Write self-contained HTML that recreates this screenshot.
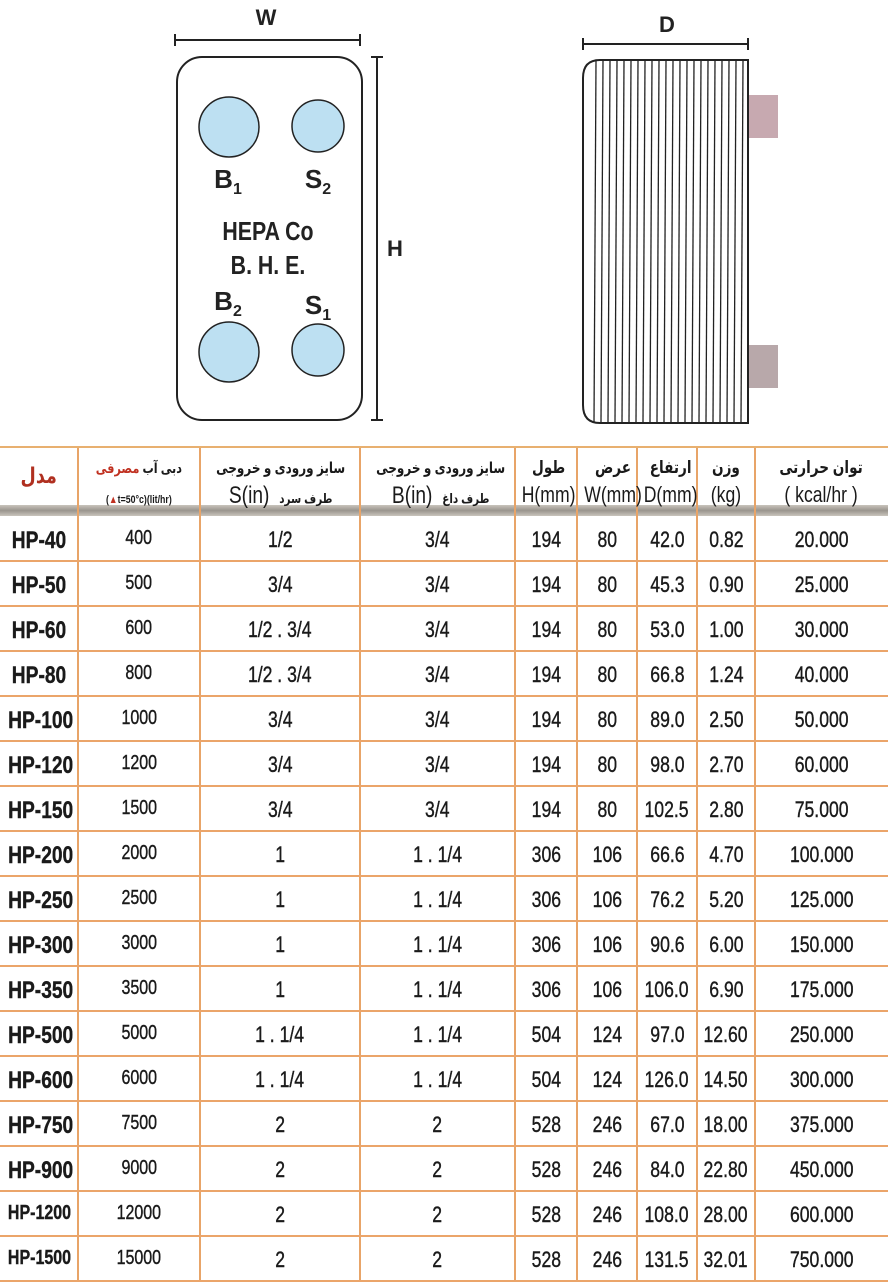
<!DOCTYPE html><html><head><meta charset="utf-8"><style>
body{margin:0;width:888px;height:1280px;background:#fff;overflow:hidden;font-family:"Liberation Sans","DejaVu Sans",sans-serif;position:relative}
svg{position:absolute;left:0;top:0}
.c{position:absolute;text-align:center;color:#1a1a1a;white-space:nowrap;-webkit-text-stroke:0.4px #1a1a1a}
.c>span.s{display:inline-block;transform:scaleX(.8);transform-origin:center}
</style></head><body>
<svg width="888" height="448">
<g stroke="#222" stroke-width="2" fill="none">
<line x1="175" y1="40" x2="360" y2="40"/><line x1="175" y1="34" x2="175" y2="46"/><line x1="360" y1="34" x2="360" y2="46"/>
<line x1="377" y1="57" x2="377" y2="420"/><line x1="371" y1="57" x2="383" y2="57"/><line x1="371" y1="420" x2="383" y2="420"/>
<rect x="177" y="57" width="185" height="363" rx="25"/>
<line x1="583" y1="44" x2="748" y2="44"/><line x1="583" y1="38" x2="583" y2="50"/><line x1="748" y1="38" x2="748" y2="50"/>
</g>
<g fill="#bde0f2" stroke="#222" stroke-width="1.5">
<circle cx="229" cy="127" r="30"/><circle cx="318" cy="126" r="26"/><circle cx="229" cy="352" r="30"/><circle cx="318" cy="350" r="26"/></g>
<g font-family="Liberation Sans,sans-serif" font-weight="bold" fill="#222" font-size="26" text-anchor="middle">
<text x="266" y="25" font-size="22">W</text><text x="395" y="256" font-size="22">H</text><text x="667" y="32" font-size="22">D</text>
<g transform="translate(268 0) scale(.82 1) translate(-268 0)">
<text x="268" y="240">HEPA Co</text><text x="268" y="274">B. H. E.</text></g>
<text x="228" y="188">B<tspan font-size="16" dy="6">1</tspan></text>
<text x="318" y="188">S<tspan font-size="16" dy="6">2</tspan></text>
<text x="228" y="310">B<tspan font-size="16" dy="6">2</tspan></text>
<text x="318" y="314">S<tspan font-size="16" dy="6">1</tspan></text>
</g>
<rect x="748" y="95" width="30" height="43" fill="#c7a9b0"/><rect x="748" y="345" width="30" height="43" fill="#b8a8aa"/>
<path d="M600 60 H748 V423 H600 Q583 423 583 405 V78 Q583 60 600 60Z" fill="#fff" stroke="#222" stroke-width="2"/>
<g stroke="#222" stroke-width="1.3">
<line x1="596" y1="61" x2="594" y2="422"/><line x1="603" y1="61" x2="601" y2="422"/><line x1="610" y1="61" x2="608" y2="422"/><line x1="617" y1="61" x2="615" y2="422"/><line x1="624" y1="61" x2="622" y2="422"/><line x1="631" y1="61" x2="629" y2="422"/><line x1="638" y1="61" x2="636" y2="422"/><line x1="645" y1="61" x2="643" y2="422"/><line x1="652" y1="61" x2="650" y2="422"/><line x1="659" y1="61" x2="657" y2="422"/><line x1="666" y1="61" x2="664" y2="422"/><line x1="673" y1="61" x2="671" y2="422"/><line x1="680" y1="61" x2="678" y2="422"/><line x1="687" y1="61" x2="685" y2="422"/><line x1="694" y1="61" x2="692" y2="422"/><line x1="701" y1="61" x2="699" y2="422"/><line x1="708" y1="61" x2="706" y2="422"/><line x1="715" y1="61" x2="713" y2="422"/><line x1="722" y1="61" x2="720" y2="422"/><line x1="729" y1="61" x2="727" y2="422"/><line x1="736" y1="61" x2="734" y2="422"/><line x1="743" y1="61" x2="741" y2="422"/>
</g>
</svg>
<div id="tbl"></div>
<script>
var cols=[0,78,200,360,515,577,637,697,755,888];
var rows=[["HP-40","400","1/2","3/4","194","80","42.0","0.82","20.000"],["HP-50","500","3/4","3/4","194","80","45.3","0.90","25.000"],["HP-60","600","1/2 . 3/4","3/4","194","80","53.0","1.00","30.000"],["HP-80","800","1/2 . 3/4","3/4","194","80","66.8","1.24","40.000"],["HP-100","1000","3/4","3/4","194","80","89.0","2.50","50.000"],["HP-120","1200","3/4","3/4","194","80","98.0","2.70","60.000"],["HP-150","1500","3/4","3/4","194","80","102.5","2.80","75.000"],["HP-200","2000","1","1 . 1/4","306","106","66.6","4.70","100.000"],["HP-250","2500","1","1 . 1/4","306","106","76.2","5.20","125.000"],["HP-300","3000","1","1 . 1/4","306","106","90.6","6.00","150.000"],["HP-350","3500","1","1 . 1/4","306","106","106.0","6.90","175.000"],["HP-500","5000","1 . 1/4","1 . 1/4","504","124","97.0","12.60","250.000"],["HP-600","6000","1 . 1/4","1 . 1/4","504","124","126.0","14.50","300.000"],["HP-750","7500","2","2","528","246","67.0","18.00","375.000"],["HP-900","9000","2","2","528","246","84.0","22.80","450.000"],["HP-1200","12000","2","2","528","246","108.0","28.00","600.000"],["HP-1500","15000","2","2","528","246","131.5","32.01","750.000"]];
var h='<div style="position:absolute;left:0;top:446px;width:888px;height:2px;background:#e8b070"></div>';
h+='<div style="position:absolute;left:0;top:505px;width:888px;height:11px;background:linear-gradient(#c9c4bc,#9a958e,#c9c4bc)"></div>';
for(var i=1;i<9;i++)h+='<div style="position:absolute;left:'+(cols[i]-1)+'px;top:448px;width:2px;height:832px;background:#e8a468"></div>';
var y0=516,rh=45;
for(var r=0;r<17;r++){var y=y0+r*rh;
 h+='<div style="position:absolute;left:0;top:'+(y+rh-1)+'px;width:888px;height:2px;background:#eba56a"></div>';
 for(var c=0;c<9;c++){var fs=c==0?(r>=15?20:24):(c==1?20:22);
  h+='<div class="c" style="left:'+cols[c]+'px;width:'+(cols[c+1]-cols[c])+'px;top:'+(y+11)+'px;font-size:'+fs+'px;'+(c==0?'font-weight:bold;':'')+'"><span class="s">'+rows[r][c]+'</span></div>';}}
var hd=[["<span style='color:#b03020;font-weight:bold'>مدل</span>",""],["<span style='font-size:14px;font-weight:bold'>دبی آب <span style=\"color:#c03020\">مصرفی</span></span>","<span style='font-size:11px;font-weight:bold'>(<span style=\"color:#c03020\">▲</span>t=50°c)(lit/hr)</span>"],["<span style='font-size:15px;font-weight:bold'>سایز ورودی و خروجی</span>","<span style='font-size:24px'>S(in)</span> &nbsp;<span style='font-size:13px;font-weight:bold'>طرف سرد</span>"],["<span style='font-size:15px;font-weight:bold'>سایز ورودی و خروجی</span>","<span style='font-size:24px'>B(in)</span> &nbsp;<span style='font-size:13px;font-weight:bold'>طرف داغ</span>"],["<b style='font-size:17px'>طول</b>","H(mm)"],["<b style='font-size:17px'>عرض</b>","W(mm)"],["<b style='font-size:17px'>ارتفاع</b>","D(mm)"],["<b style='font-size:17px'>وزن</b>","(kg)"],["<b style='font-size:17px'>توان حرارتی</b>","( kcal/hr )"]];
for(var c=0;c<9;c++){h+='<div class="c" style="left:'+cols[c]+'px;width:'+(cols[c+1]-cols[c])+'px;top:'+(c==0?462:452)+'px;font-size:22px;line-height:27px;-webkit-text-stroke:0"><span class="s">'+hd[c][0]+'<br>'+hd[c][1]+'</span></div>';}
document.getElementById('tbl').innerHTML=h;
</script>
</body></html>
